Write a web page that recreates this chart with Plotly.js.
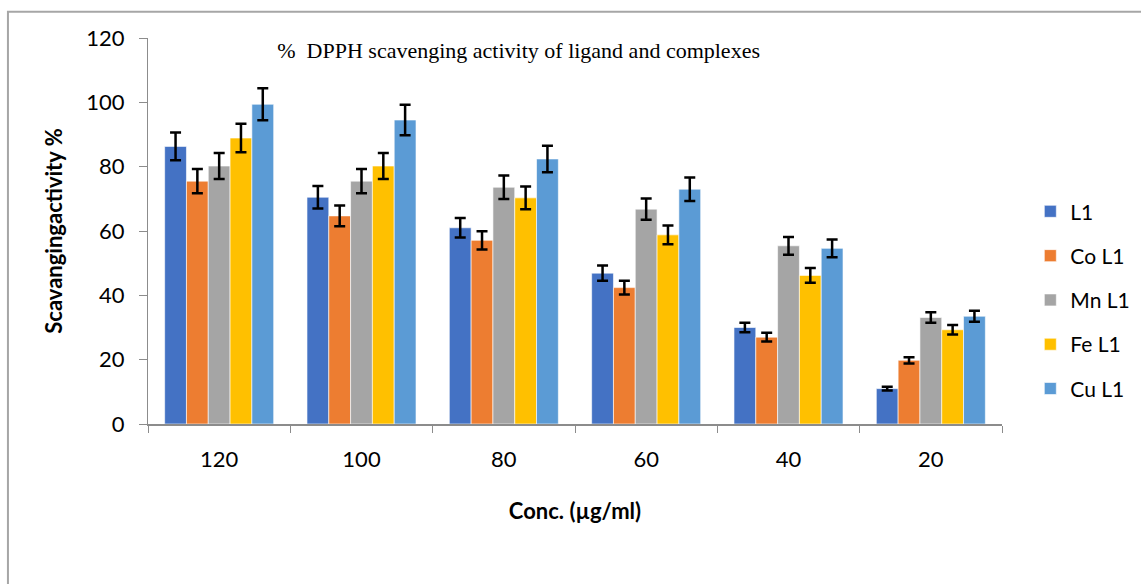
<!DOCTYPE html>
<html>
<head>
<meta charset="utf-8">
<script src="https://cdn.plot.ly/plotly-3.0.1.min.js"></script>
<style>html,body{margin:0;padding:0;background:#fff;}#chart{width:1141px;height:584px;}</style>
</head>
<body>
<div id="chart"></div>
<script>
var categories = ["120", "100", "80", "60", "40", "20"];
var seriesNames = ["L1", "Co L1", "Mn L1", "Fe L1", "Cu L1"];
var L1   = [86.3, 70.5, 61.0, 46.9, 30.0, 11.0];
var CoL1 = [75.5, 64.7, 57.1, 42.4, 27.0, 19.8];
var MnL1 = [80.2, 75.5, 73.6, 66.8, 55.4, 33.1];
var FeL1 = [88.9, 80.2, 70.3, 58.8, 46.2, 29.3];
var CuL1 = [99.4, 94.5, 82.4, 73.0, 54.6, 33.5];
var errorPercent = 5;
var yTicks = [0, 20, 40, 60, 80, 100, 120];

var seriesValues = [L1, CoL1, MnL1, FeL1, CuL1];
var colors = ["#4472C4", "#ED7D31", "#A5A5A5", "#FFC000", "#5B9BD5"];

var traces = seriesValues.map(function (vals, i) {
  return {
    type: "bar",
    name: seriesNames[i],
    x: categories,
    y: vals,
    legendgroup: "g" + i,
    marker: { color: colors[i], line: { color: "rgba(255,255,255,0.6)", width: 1 } },
    error_y: { type: "percent", value: errorPercent, color: "#000", thickness: 2.5, width: 5.5 }
  };
});

var layout = {
  width: 1141,
  height: 584,
  paper_bgcolor: "#fff",
  plot_bgcolor: "#fff",
  margin: { l: 148, r: 139, t: 38, b: 160 },
  barmode: "group",
  bargap: 0.234,
  bargroupgap: 0,
  showlegend: true,
  title: {
    text: "%  DPPH scavenging activity of ligand and complexes",
    font: { family: "Liberation Serif, Times New Roman, serif", size: 22, color: "#000" },
    xref: "paper", x: 0.434, xanchor: "center",
    yref: "container", y: 0.914, yanchor: "middle"
  },
  xaxis: {
    type: "category",
    tickson: "boundaries",
    ticks: "outside", ticklen: 7, tickcolor: "#8c8c8c", tickwidth: 1,
    showline: true, linecolor: "#8c8c8c", linewidth: 2,
    showgrid: false, zeroline: false,
    tickfont: { family: "Lato, sans-serif", size: 22, color: "#000" },
    ticklabelstandoff: 15,
    title: { text: "Conc. (µg/ml)", standoff: 32,
      font: { family: "Lato, sans-serif", size: 22, color: "#000", weight: "bold" } }
  },
  yaxis: {
    range: [0, 120],
    tickvals: yTicks,
    ticks: "outside", ticklen: 8, tickcolor: "#8c8c8c", tickwidth: 1,
    showline: true, linecolor: "#8c8c8c", linewidth: 1,
    showgrid: false, zeroline: false,
    tickfont: { family: "Lato, sans-serif", size: 22, color: "#000" },
    ticklabelstandoff: 10,
    title: { text: "Scavangingactivity %", standoff: 17,
      font: { family: "Lato, sans-serif", size: 22, color: "#000", weight: "bold" } }
  },
  legend: {
    xref: "container", x: 0.903, xanchor: "left",
    yref: "container", y: 0.486, yanchor: "middle",
    traceorder: "grouped",
    tracegroupgap: 14,
    font: { family: "Lato, sans-serif", size: 21, color: "#000" },
    bgcolor: "rgba(0,0,0,0)",
    itemwidth: 30
  },
  shapes: [{
    type: "rect", xref: "paper", yref: "paper",
    x0: -0.164, x1: 1.3, y0: -0.6, y1: 1.068,
    line: { color: "#a6a6a6", width: 2 }, fillcolor: "rgba(0,0,0,0)", layer: "below"
  }]
};

Plotly.newPlot("chart", traces, layout, { displayModeBar: false, staticPlot: true });
</script>
</body>
</html>
